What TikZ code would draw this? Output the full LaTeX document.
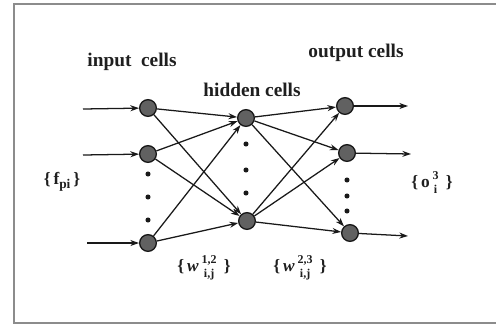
\documentclass[tikz,border=0pt]{standalone}
\usepackage{fontspec}
\setmainfont{Liberation Serif}
\usetikzlibrary{arrows.meta}
\newcommand{\supsub}[2]{\begin{tabular}{@{}c@{}}\fontsize{9}{9}\selectfont #1\\[-2pt]\fontsize{9}{9}\selectfont #2\end{tabular}}
\begin{document}
\begin{tikzpicture}[x=0.75pt,y=-0.75pt,
  cell/.style={circle,draw=black!90,line width=1pt,fill=black!62,minimum size=12.5pt,inner sep=0pt},
  link/.style={line width=0.95pt,draw=black!90,-{Stealth[length=6.5pt,width=4.5pt]}},
  vdot/.style={circle,fill=black!90,minimum size=3.8pt,inner sep=0pt},
  lbl/.style={font=\fontsize{14.5}{14.5}\selectfont\bfseries,text=black!88},
  mlbl/.style={font=\fontsize{13}{13}\selectfont\bfseries,text=black!88}]
\useasboundingbox (0,0) rectangle (496,326);
% frame
\draw[black!45,line width=1.3pt] (498,4) -- (14,4) -- (14,323) -- (498,323);
% input cells
\node[cell] (i1) at (148,108) {};
\node[cell] (i2) at (148,154) {};
\node[cell] (i3) at (148,243) {};
\node[vdot] (id1) at (148,174) {};
\node[vdot] (id2) at (148,197) {};
\node[vdot] (id3) at (148,220) {};
% hidden cells
\node[cell] (h1) at (246,118) {};
\node[cell] (h2) at (247,221) {};
\node[vdot] (hd1) at (246,144) {};
\node[vdot] (hd2) at (246,170) {};
\node[vdot] (hd3) at (246,193) {};
% output cells
\node[cell] (o1) at (345,106) {};
\node[cell] (o2) at (347,153) {};
\node[cell] (o3) at (350,233) {};
\node[vdot] (od1) at (347,180) {};
\node[vdot] (od2) at (347,196) {};
\node[vdot] (od3) at (347,211) {};
% inputs / outputs
\coordinate (a1) at (83,109);
\coordinate (a2) at (83,155);
\coordinate (a3) at (87,243);
\coordinate (b1) at (408,106);
\coordinate (b2) at (411,154);
\coordinate (b3) at (408,236);
\draw[link] (a1) -- (i1);
\draw[link] (a2) -- (i2);
\draw[link] (a3) -- (i3);
\draw[link] (o1) -- (b1);
\draw[link] (o2) -- (b2);
\draw[link] (o3) -- (b3);
% input to hidden
\foreach \s in {i1,i2,i3}{
  \draw[link] (\s) -- (h1);
  \draw[link] (\s) -- (h2);
}
% hidden to output
\foreach \s in {h1,h2}{
  \draw[link] (\s) -- (o1);
  \draw[link] (\s) -- (o2);
  \draw[link] (\s) -- (o3);
}
% labels
\node[lbl] (tin) at (132,62) {input\ \ cells};
\node[lbl] (thid) at (252,90) {hidden cells};
\node[lbl] (tout) at (356,53) {output cells};
\node[mlbl] (tf) at (62,182) {\{\,f\raisebox{-0.45ex}{\fontsize{10}{10}\selectfont pi}\,\}};
\node[mlbl] (to) at (432,183) {\{\,o\,\supsub{3}{i}\,\ \}};
\node[mlbl] (tw1) at (204,267) {\{\,\textit{w}\,\supsub{1,2}{i,j}\,\ \}};
\node[mlbl] (tw2) at (300,267) {\{\,\textit{w}\,\supsub{2,3}{i,j}\,\ \}};
\end{tikzpicture}
\end{document}
